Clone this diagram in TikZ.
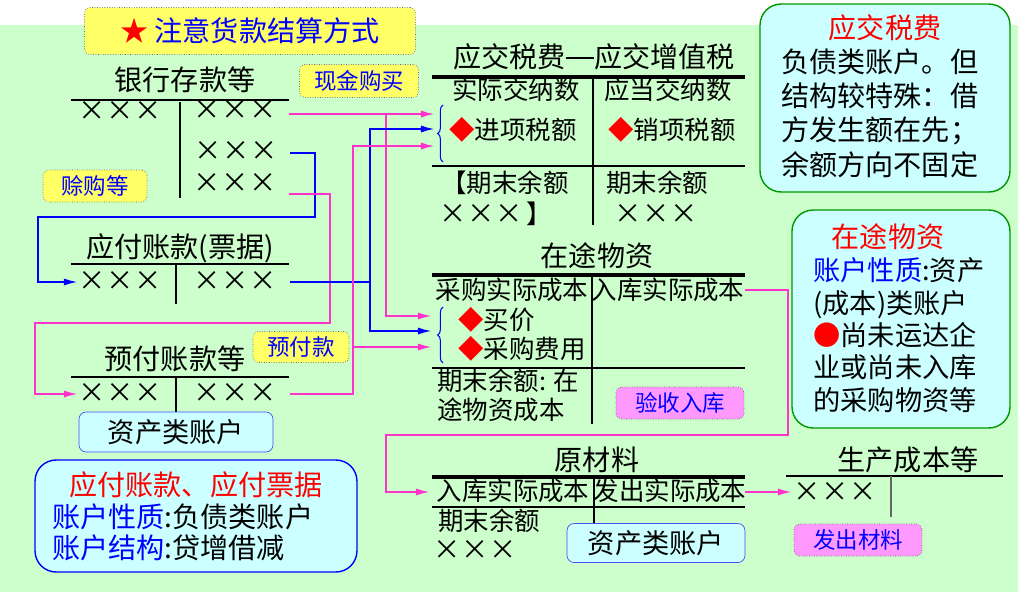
\documentclass[tikz,border=0pt]{standalone}
\usepackage{fontspec}
\setmainfont{Noto Sans CJK SC}
\usetikzlibrary{arrows.meta,decorations.pathreplacing}
\definecolor{bggreen}{HTML}{CCFFCC}
\definecolor{lcyan}{HTML}{CCFFFF}
\definecolor{lyellow}{HTML}{FFFF66}
\definecolor{lpink}{HTML}{FF99FF}
\definecolor{mag}{HTML}{FF33CC}
\definecolor{bblue}{HTML}{0000FF}
\newcommand{\xxx}{{\fontsize{15.5}{16}\selectfont ×\kern0.3pt×\kern0.3pt×}}
\newcommand{\dia}{\textcolor{red}{◆}}
\newcommand{\ldash}{\rule[0.32em]{1em}{0.7pt}}
\tikzset{
  ttl/.style={font=\fontsize{16}{18}\selectfont, inner sep=0pt},
  txt/.style={font=\fontsize{14.5}{16}\selectfont, inner sep=0pt},
  tag/.style={draw=black!60, densely dotted, fill=lyellow, rounded corners=3pt,
    text=bblue, font=\fontsize{12.8}{14}\selectfont, inner sep=0pt},
  pinktag/.style={tag, fill=lpink},
  acct/.style={draw=bblue!70, fill=lcyan, rounded corners=4pt,
    font=\fontsize{15.5}{17}\selectfont, inner sep=0pt},
  info/.style={fill=lcyan, rounded corners=12pt, line width=0.8pt},
  tline/.style={line width=0.8pt},
  thk/.style={line width=1.8pt},
  mg/.style={draw=mag, line width=1.1pt},
  bl/.style={draw=bblue, line width=1.1pt}
}
\begin{document}
\begin{tikzpicture}[x=0.02cm,y=-0.02cm,>={Latex[length=8pt,width=4pt]}]
\useasboundingbox (0,0) rectangle (1018,592);
\fill[bggreen] (0,25) rectangle (1018,592);

\node[tag, minimum width=6.62cm, minimum height=0.94cm, font=\fontsize{16}{18}\selectfont] (title) at (250,31) {\textcolor{red}{★} 注意货款结算方式};

\node[ttl] (bank) at (185,80) {银行存款等};
\draw[tline] (71,100) -- (289,100) (180,102) -- (180,198);
\node[txt] (bankL) at (120,111) {\xxx};
\node[txt] (bankR1) at (235,110) {\xxx};
\node[txt] (bankR2) at (236,151) {\xxx};
\node[txt] (bankR3) at (235,183) {\xxx};

\node[tag, minimum width=2.38cm, minimum height=0.66cm] (cash) at (359,81) {现金购买};
\node[tag, minimum width=2.08cm, minimum height=0.64cm] (credit) at (95,186) {赊购等};
\node[tag, minimum width=1.92cm, minimum height=0.62cm] (prepay) at (301,347) {预付款};

\node[ttl] (yf) at (180,248) {应付账款(票据)};
\draw[tline] (71,264) -- (289,264) (176,264) -- (176,304);
\node[txt] (yfL) at (120,281) {\xxx};
\node[txt] (yfR) at (235,281) {\xxx};

\node[ttl] (yu) at (175,359) {预付账款等};
\draw[tline] (71,377) -- (289,377) (176,377) -- (176,412);
\node[txt] (yuL) at (120,393) {\xxx};
\node[txt] (yuR) at (235,393) {\xxx};
\node[acct, minimum width=3.88cm, minimum height=0.8cm] (yuType) at (176,432) {资产类账户};

\node[info, draw=bblue, minimum width=6.44cm, minimum height=2.24cm] (yfBox) at (196,516) {};
\node[font=\fontsize{16}{18}\selectfont, text=red, inner sep=0pt] (yfBoxT) at (196,485) {应付账款、应付票据};
\node[font=\fontsize{16}{17.6}\selectfont, align=left, anchor=west, inner sep=0pt] (yfBoxB) at (52,532) {\textcolor{bblue}{账户性质}:负债类账户\\\textcolor{bblue}{账户结构}:贷增借减};

\node[ttl] (vat) at (594,57) {应交税费\ldash 应交增值税};
\draw[thk] (432,77) -- (745,77);
\draw[tline] (593,77) -- (593,225) (432,166) -- (745,166);
\node[txt] (vatDr) at (516,90) {实际交纳数};
\node[txt] (vatCr) at (668,90) {应当交纳数};
\node[txt] (vatIn) at (513,130) {\dia 进项税额};
\node[txt] (vatOut) at (672,130) {\dia 销项税额};
\node[txt] (vatBalL) at (505,183) {【期末余额};
\node[txt] (vatBalLx) at (496,214) {\xxx\,】};
\node[txt] (vatBalR) at (657,183) {期末余额};
\node[txt] (vatBalRx) at (656,214) {\xxx};
\draw[bblue, line width=0.6pt, decorate, decoration={brace,amplitude=3pt}] (443,162) -- (443,105);

\node[ttl] (zw) at (597,256) {在途物资};
\draw[thk] (432,275) -- (745,275);
\draw[tline] (592,275) -- (592,424) (432,368) -- (745,368);
\node[txt] (zwDr) at (512,290) {采购实际成本};
\node[txt] (zwCr) at (668,290) {入库实际成本};
\node[txt, anchor=west] (zwP) at (458,320) {\dia 买价};
\node[txt, anchor=west] (zwF) at (458,349) {\dia 采购费用};
\node[txt, anchor=west] (zwBal) at (437,381) {期末余额: 在};
\node[txt, anchor=west] (zwBal2) at (437,410) {途物资成本};
\node[pinktag, minimum width=2.56cm, minimum height=0.64cm] (ysrk) at (680,403) {验收入库};
\draw[bblue, line width=0.6pt, decorate, decoration={brace,amplitude=3pt}] (443,363) -- (443,307);

\node[ttl] (ycl) at (597,460) {原材料};
\draw[thk] (432,477) -- (745,477);
\draw[tline] (594,477) -- (594,524) (432,507) -- (745,507);
\node[txt] (yclDr) at (513,491) {入库实际成本};
\node[txt] (yclCr) at (670,491) {发出实际成本};
\node[txt, anchor=west] (yclBal) at (438,521) {期末余额};
\node[txt] (yclBalx) at (475,550) {\xxx};
\node[acct, minimum width=3.56cm, minimum height=0.78cm] (yclType) at (656,543) {资产类账户};

\node[ttl] (sc) at (908,460) {生产成本等};
\draw[tline] (786,476) -- (1003,476);
\draw[tline, black!60] (891,476) -- (891,517);
\node[txt] (scx) at (835,492) {\xxx};
\node[pinktag, minimum width=2.56cm, minimum height=0.64cm] (fccl) at (858,540) {发出材料};

\node[info, draw=green!60!black, minimum width=5cm, minimum height=3.76cm] (vatBox) at (885,98) {};
\node[font=\fontsize{16}{18}\selectfont, text=red, inner sep=0pt] (vatBoxT) at (885,28) {应交税费};
\node[font=\fontsize{16}{19.5}\selectfont, align=left, anchor=west, inner sep=0pt] (vatBoxB) at (781,113) {负债类账户。但\\结构较特殊：借\\方发生额在先；\\余额方向不固定};

\node[info, draw=green!60!black, minimum width=4.36cm, minimum height=4.36cm] (zwBox) at (901,319) {};
\node[font=\fontsize{16}{18}\selectfont, text=red, inner sep=0pt] (zwBoxT) at (888,237) {在途物资};
\node[font=\fontsize{15.5}{18.4}\selectfont, align=left, anchor=west, inner sep=0pt] (zwBoxB) at (813,335) {\textcolor{bblue}{账户性质}:资产\\(成本)类账户\\\textcolor{red}{●}尚未运达企\\业或尚未入库\\的采购物资等};

\coordinate (bankO1) at (289,114);
\coordinate (bankO2) at (290,153);
\coordinate (bankO3) at (289,194);
\coordinate (yfO) at (290,282);
\coordinate (yfIn) at (78,282);
\coordinate (yuO) at (290,394);
\coordinate (yuIn) at (78,394);
\coordinate (vatA) at (435,114);
\coordinate (vatB) at (435,129);
\coordinate (vatC) at (435,146);
\coordinate (zwA) at (432,316);
\coordinate (zwB) at (432,331);
\coordinate (zwC) at (432,347);
\coordinate (zwO) at (745,290);
\coordinate (yclIn) at (430,492);
\coordinate (yclO) at (745,492);
\coordinate (scIn) at (792,492);

\draw[mg,->] (bankO1) -- (vatA);
\draw[mg,->] (386,114) |- (zwA);
\draw[bl,->] (bankO2) -| (315,217) -| (38,282) -- (yfIn);
\draw[mg,->] (bankO3) -| (330,323) -| (35,394) -- (yuIn);
\draw[bl,->] (yfO) -| (370,129) -- (vatB);
\draw[bl,->] (370,282) |- (zwB);
\draw[mg,->] (yuO) -| (353,146) -- (vatC);
\draw[mg,->] (353,347) -- (zwC);
\draw[mg,->] (zwO) -| (788,435) -| (386,492) -- (yclIn);
\draw[mg,->] (yclO) -- (scIn);
\end{tikzpicture}
\end{document}
